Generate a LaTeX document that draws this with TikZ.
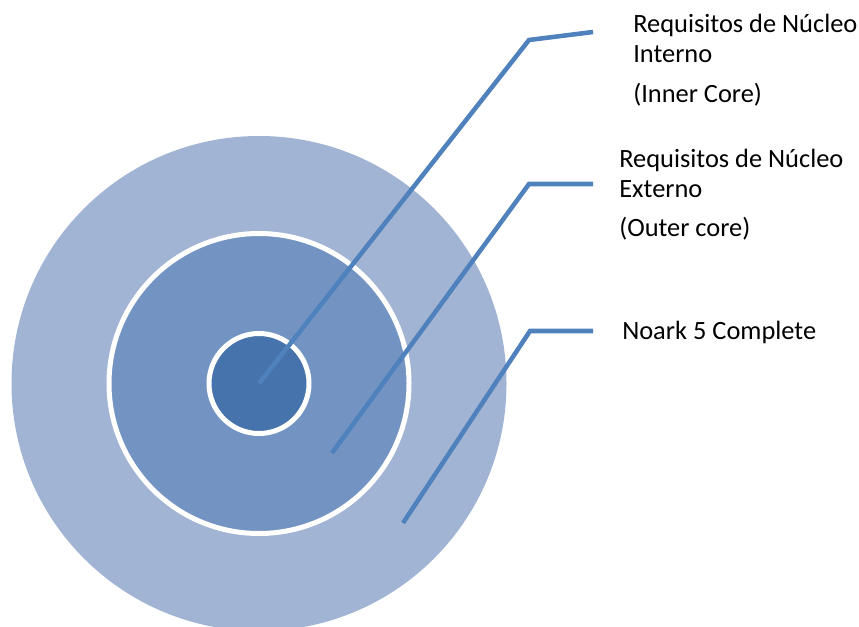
\documentclass[tikz,border=0pt]{standalone}
\usepackage{fontspec}
\setmainfont{Carlito}
\usepackage{tikz}
\definecolor{ringout}{HTML}{A2B4D4}
\definecolor{ringmid}{HTML}{7394C2}
\definecolor{ringin}{HTML}{4673AB}
\definecolor{leader}{HTML}{4F81BD}

\begin{document}
\begin{tikzpicture}[x=0.75pt,y=-0.75pt,
		ring/.style={circle,inner sep=0pt,draw=white,line width=3.75pt},
		leaderline/.style={draw=leader,line width=3.4pt},
		lbl/.style={anchor=base west,inner sep=0pt,font=\fontsize{19.8}{24}\selectfont}]
		\useasboundingbox (0,0) rectangle (859,627);
		\clip (0,0) rectangle (859,627);
		% the three cores
		\node[ring,fill=ringout,draw=none,minimum size=371.25pt] (outer) at (259,383.5) {};
		\node[ring,fill=ringmid,minimum size=225pt] (middle) at (259,383.5) {};
		\node[ring,fill=ringin,minimum size=75pt] (inner) at (259,383.5) {};

		\path	(332,453) coordinate(mid-s)
			(403,523) coordinate(out-s)
			(529,40) coordinate(in-k) (593,32) coordinate(in-e)
			(529,184) coordinate(mid-k) (593,184) coordinate(mid-e)
			(530,331) coordinate(out-k) (593,331) coordinate(out-e);
		\draw[leaderline] (inner.center) -- (in-k) -- (in-e);
		\draw[leaderline] (mid-s) -- (mid-k) -- (mid-e);
		\draw[leaderline] (out-s) -- (out-k) -- (out-e);

		\node[lbl] (in-a) at (633,33) {Requisitos de Núcleo};
		\node[lbl] (in-b) at (633,63) {Interno};
		\node[lbl] (in-c) at (633,103) {(Inner Core)};
		\node[lbl] (mid-a) at (619,168) {Requisitos de Núcleo};
		\node[lbl] (mid-b) at (619,198) {Externo};
		\node[lbl] (mid-c) at (619,237) {(Outer core)};
		\node[lbl] (out-a) at (622,339) {Noark 5 Complete};
	\end{tikzpicture}
\end{document}
